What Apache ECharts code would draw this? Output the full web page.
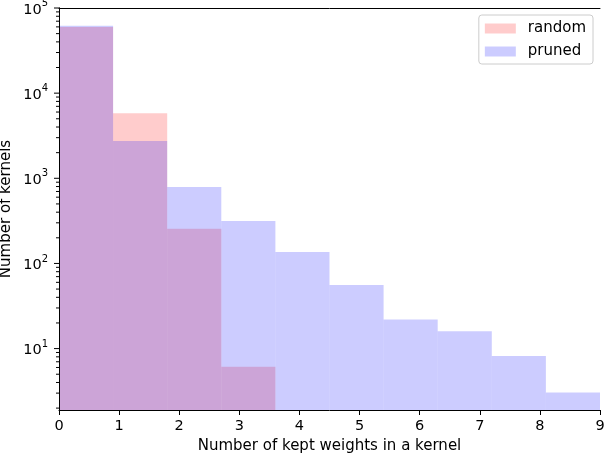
<!DOCTYPE html>
<html><head><meta charset="utf-8">
<script src="https://cdn.jsdelivr.net/npm/echarts@6/dist/echarts.min.js"></script>
<style>html,body{margin:0;padding:0;background:#fff}#c{width:604px;height:458px}</style>
</head><body><div id="c"></div>
<script>
// Histogram bins (left edges / right edges) and counts per bin
const binLeft  = [0, 0.9, 1.8, 2.7, 3.6, 4.5, 5.4, 6.3, 7.2, 8.1];
const binRight = [0.9, 1.8, 2.7, 3.6, 4.5, 5.4, 6.3, 7.2, 8.1, 9.0];
const randomCounts = [60000, 5800, 255, 6.1, 0, 0, 0, 0, 0, 0];
const prunedCounts = [62000, 2750, 790, 315, 136, 56, 22, 16, 8.2, 3.05];
const seriesNames = ['random', 'pruned'];
const xTicks = [0, 1, 2, 3, 4, 5, 6, 7, 8, 9];
const yMajorTicks = [10, 100, 1000, 10000, 100000];
const yMinorTicks = [2,3,4,5,6,7,8,9,20,30,40,50,60,70,80,90,200,300,400,500,600,700,800,900,
  2000,3000,4000,5000,6000,7000,8000,9000,20000,30000,40000,50000,60000,70000,80000,90000];
const Y_MIN = 1.9, Y_MAX = 100000;

const FONT = 'DejaVu Sans';
const FS = 15;
const redFill = 'rgba(255,0,0,0.2)';
const blueFill = 'rgba(0,0,255,0.2)';

function barData(counts) {
  return counts.map((c, i) => [binLeft[i], binRight[i], c]);
}
function makeBarRenderer(fill) {
  return function (params, api) {
    const x0 = api.value(0), x1 = api.value(1), v = api.value(2);
    if (!(v > 0)) return null;
    const pTop = api.coord([x0, v]);
    const pBot = api.coord([x1, Y_MIN]);
    return {
      type: 'rect',
      shape: { x: pTop[0], y: pTop[1], width: pBot[0] - pTop[0], height: pBot[1] - pTop[1] },
      style: { fill: fill }
    };
  };
}
function tickRenderer(len) {
  return function (params, api) {
    const p = api.coord([0, api.value(0)]);
    return {
      type: 'line',
      shape: { x1: p[0] - len, y1: p[1], x2: p[0], y2: p[1] },
      style: { stroke: '#000', lineWidth: 1 }
    };
  };
}

const chart = echarts.init(document.getElementById('c'), null, { renderer: 'canvas' });
chart.setOption({
  animation: false,
  textStyle: { fontFamily: FONT },
  grid: { left: 59, right: 4, top: 8, bottom: 48, containLabel: false, outerBoundsMode: 'none' },
  legend: {
    data: [
      { name: seriesNames[0], itemStyle: { color: redFill } },
      { name: seriesNames[1], itemStyle: { color: blueFill } }
    ],
    orient: 'vertical',
    right: 11, top: 15,
    padding: [6, 7, 5, 6],
    itemGap: 8,
    itemWidth: 31, itemHeight: 10,
    icon: 'rect',
    borderColor: '#cccccc', borderWidth: 1, borderRadius: 3,
    backgroundColor: 'rgba(255,255,255,0.8)',
    textStyle: { fontFamily: FONT, fontSize: FS, color: '#000', padding: [0, 0, 0, 7] },
    selectedMode: false
  },
  xAxis: [{
    type: 'value', min: 0, max: 9, interval: 1,
    name: 'Number of kept weights in a kernel',
    nameLocation: 'middle', nameGap: 23,
    nameTextStyle: { fontFamily: FONT, fontSize: FS, color: '#000' },
    axisLine: { show: true, lineStyle: { color: '#000', width: 1 } },
    axisTick: { show: true, length: 5, lineStyle: { color: '#000' } },
    axisLabel: { fontFamily: FONT, fontSize: 14.5, color: '#000', margin: 9,
      formatter: v => xTicks.includes(v) ? String(v) : '' },
    splitLine: { show: false },
    z: 10
  }, {
    type: 'value', min: 0, max: 9, position: 'top',
    axisLine: { show: true, onZero: false, lineStyle: { color: '#000', width: 1 } },
    axisTick: { show: false }, axisLabel: { show: false }, splitLine: { show: false },
    z: 10
  }],
  yAxis: [{
    type: 'log', logBase: 10, min: Y_MIN, max: Y_MAX,
    name: 'Number of kernels',
    nameLocation: 'middle', nameGap: 45, nameMoveOverlap: false,
    nameTextStyle: { fontFamily: FONT, fontSize: FS, color: '#000' },
    axisLine: { show: true, lineStyle: { color: '#000', width: 1 } },
    axisTick: { show: false },
    axisLabel: {
      margin: 11, color: '#000',
      formatter: function (v) {
        const e = Math.round(Math.log10(v));
        if (Math.abs(Math.pow(10, e) - v) / v > 1e-6 || !yMajorTicks.includes(Math.pow(10, e))) return '';
        return '{b|10}{s|' + e + '}';
      },
      rich: {
        b: { fontFamily: FONT, fontSize: 14.5, color: '#000', lineHeight: 19, verticalAlign: 'bottom' },
        s: { fontFamily: FONT, fontSize: 10, color: '#000', lineHeight: 19, verticalAlign: 'top' }
      }
    },
    splitLine: { show: false },
    z: 10
  }, {
    type: 'log', logBase: 10, min: Y_MIN, max: Y_MAX, position: 'right',
    axisLine: { show: true, lineStyle: { color: '#000', width: 1 } },
    axisTick: { show: false }, axisLabel: { show: false }, splitLine: { show: false },
    z: 10
  }],
  series: [
    {
      name: seriesNames[0], type: 'custom', renderItem: makeBarRenderer(redFill),
      itemStyle: { color: redFill },
      data: barData(randomCounts), encode: { x: [0, 1], y: 2 }, z: 2, silent: true
    },
    {
      name: seriesNames[1], type: 'custom', renderItem: makeBarRenderer(blueFill),
      itemStyle: { color: blueFill },
      data: barData(prunedCounts), encode: { x: [0, 1], y: 2 }, z: 3, silent: true
    },
    {
      name: 'majorTicks', type: 'custom', renderItem: tickRenderer(5),
      data: yMajorTicks.map(v => [v]), encode: { y: 0 }, clip: false, z: 11, silent: true
    },
    {
      name: 'minorTicks', type: 'custom', renderItem: tickRenderer(3),
      data: yMinorTicks.map(v => [v]), encode: { y: 0 }, clip: false, z: 11, silent: true
    }
  ]
});
</script>
</body></html>
